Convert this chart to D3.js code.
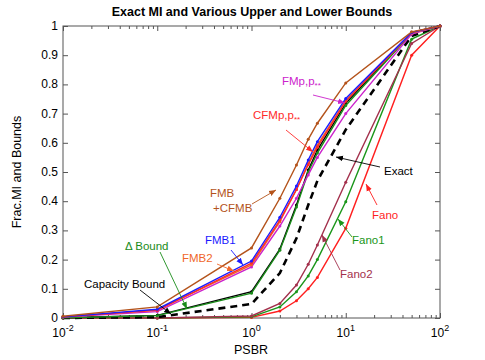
<!DOCTYPE html>
<html><head><meta charset="utf-8">
<script src="https://cdn.jsdelivr.net/npm/d3@7"></script>
<style>body{margin:0;background:#fff}svg{display:block}text{font-family:"Liberation Sans",Arial,sans-serif}</style>
</head><body><svg id="c" width="485" height="360"></svg>
<script>
const psbr = [0.01, 0.1, 1, 2, 3, 4, 5, 10, 50, 100];
const fmbCfmb  = [0.006, 0.038, 0.240, 0.410, 0.524, 0.612, 0.667, 0.805, 0.980, 1];
const fmb1     = [0.004, 0.030, 0.195, 0.345, 0.452, 0.541, 0.604, 0.752, 0.978, 1];
const fmb2     = [0.004, 0.028, 0.182, 0.330, 0.440, 0.530, 0.592, 0.745, 0.976, 1];
const cfmp     = [0.004, 0.026, 0.188, 0.335, 0.440, 0.525, 0.585, 0.742, 0.978, 1];
const fmp      = [0.003, 0.022, 0.175, 0.315, 0.410, 0.490, 0.550, 0.700, 0.972, 1];
const deltaB   = [0.001, 0.008, 0.085, 0.232, 0.380, 0.500, 0.565, 0.728, 0.975, 1];
const capacity = [0.001, 0.009, 0.090, 0.236, 0.387, 0.507, 0.575, 0.735, 0.977, 1];
const exact    = [0.000, 0.003, 0.048, 0.154, 0.273, 0.387, 0.470, 0.645, 0.966, 1];
const fano2    = [0, 0, 0.007, 0.050, 0.113, 0.184, 0.250, 0.465, 0.940, 1];
const fano1    = [0, 0, 0.004, 0.038, 0.090, 0.144, 0.200, 0.398, 0.955, 1];
const fano     = [0, 0, 0.002, 0.024, 0.059, 0.100, 0.139, 0.307, 0.900, 1];
const xTicks = [0.01, 0.1, 1, 10, 100];
const xTickExp = ["-2", "-1", "0", "1", "2"];
const yTicks = [0, 0.1, 0.2, 0.3, 0.4, 0.5, 0.6, 0.7, 0.8, 0.9, 1];

const series = [
  {name:"Fano", v:fano, c:"#ff1f1f"},
  {name:"Fano1", v:fano1, c:"#1a961a"},
  {name:"Fano2", v:fano2, c:"#a3304c"},
  {name:"Exact", v:exact, c:"#000", dash:true},
  {name:"Capacity", v:capacity, c:"#000"},
  {name:"Delta", v:deltaB, c:"#1a8c1a"},
  {name:"FMp", v:fmp, c:"#cc22cc"},
  {name:"FMB2", v:fmb2, c:"#f0662a"},
  {name:"CFMp", v:cfmp, c:"#ff2a2a"},
  {name:"FMB1", v:fmb1, c:"#1a1aff"},
  {name:"FMBCFMB", v:fmbCfmb, c:"#b4531b"}
];

const L=63, R=440, T=26, B=318;
const svg = d3.select("#c");
const x = d3.scaleLog().domain([0.01,100]).range([L,R]);
const y = d3.scaleLinear().domain([0,1]).range([B,T]);

// frame
svg.append("rect").attr("x",L).attr("y",T).attr("width",R-L).attr("height",B-T)
  .attr("fill","none").attr("stroke","#555").attr("stroke-width",1);

// x axis ticks (inside) bottom & top
const minor = [];
for (let e=-2;e<2;e++) for (let k=2;k<10;k++) minor.push(k*Math.pow(10,e));
const xb = d3.axisBottom(x).tickValues(xTicks).tickSize(-5).tickFormat("");
const gxb = svg.append("g").attr("transform",`translate(0,${B})`).call(xb);
const gxt = svg.append("g").attr("transform",`translate(0,${T})`).call(d3.axisTop(x).tickValues(xTicks).tickSize(-5).tickFormat(""));
svg.append("g").attr("transform",`translate(0,${B})`).call(d3.axisBottom(x).tickValues(minor).tickSize(-3).tickFormat(""));
svg.append("g").attr("transform",`translate(0,${T})`).call(d3.axisTop(x).tickValues(minor).tickSize(-3).tickFormat(""));
svg.append("g").attr("transform",`translate(${L},0)`).call(d3.axisLeft(y).tickValues(yTicks).tickSize(-5).tickFormat(""));
svg.append("g").attr("transform",`translate(${R},0)`).call(d3.axisRight(y).tickValues(yTicks).tickSize(-5).tickFormat(""));
svg.selectAll(".domain").remove();
svg.selectAll(".tick line").attr("stroke","#555");

// tick labels
xTicks.forEach((t,i)=>{
  const tx = svg.append("text").attr("x",x(t)).attr("y",B+19).attr("text-anchor","middle")
    .attr("font-size",12).attr("fill","#000");
  tx.append("tspan").text("10");
  tx.append("tspan").attr("dy",-6).attr("font-size",9).text(xTickExp[i]);
});
yTicks.forEach(t=>{
  svg.append("text").attr("x",L-5).attr("y",y(t)+4).attr("text-anchor","end")
    .attr("font-size",12).text(d3.format("")(+t.toFixed(1)));
});

// labels
svg.append("text").attr("x",252).attr("y",16).attr("text-anchor","middle")
  .attr("font-size",12.5).attr("font-weight","bold").text("Exact MI and Various Upper and Lower Bounds");
svg.append("text").attr("x",251).attr("y",354).attr("text-anchor","middle").attr("font-size",12.5).text("PSBR");
svg.append("text").attr("transform","translate(21,172) rotate(-90)").attr("text-anchor","middle")
  .attr("font-size",12.5).text("Frac.MI and Bounds");

// lines
const line = d3.line().x((d,i)=>x(psbr[i])).y(d=>y(d));
series.forEach(s=>{
  svg.append("path").datum(s.v).attr("d",line).attr("fill","none").attr("stroke",s.c)
    .attr("stroke-width",s.dash?2.6:1.4).attr("stroke-dasharray",s.dash?"7,5":null);
  if (!s.dash) {
    svg.append("g").selectAll("circle").data(s.v).join("circle")
      .attr("cx",(d,i)=>x(psbr[i])).attr("cy",d=>y(d)).attr("r",1.5).attr("fill",s.c);
  }
});

// annotations
const defs = svg.append("defs");
function arrow(x1,y1,x2,y2,c){
  const id = "m"+c.replace("#","");
  if (defs.select("#"+id).empty()) {
    defs.append("marker").attr("id",id).attr("viewBox","0 0 10 10").attr("refX",10).attr("refY",5)
      .attr("markerWidth",7).attr("markerHeight",7).attr("orient","auto-start-reverse").attr("markerUnits","userSpaceOnUse")
      .append("path").attr("d","M0,1 L10,5 L0,9 Z").attr("fill",c);
  }
  svg.append("line").attr("x1",x1).attr("y1",y1).attr("x2",x2).attr("y2",y2)
    .attr("stroke",c).attr("stroke-width",0.9).attr("marker-end",`url(#${id})`);
}
function label(tx,ty,str,c,sub){
  const t = svg.append("text").attr("x",tx).attr("y",ty).attr("font-size",11.5).attr("fill",c);
  t.append("tspan").text(str);
  if (sub) t.append("tspan").attr("dy",3).attr("font-size",8).text(sub);
  return t;
}
label(282,85,"FMp,p","#cc22cc","**");
arrow(313,95,345,103,"#cc22cc");
label(253,119,"CFMp,p","#ff2a2a","**");
arrow(286,130,313,152,"#ff2a2a");
label(384,175,"Exact","#000");
arrow(380,167,336,157,"#000");
label(210,197,"FMB","#b4531b");
label(213,212,"+CFMB","#b4531b");
arrow(252,204,276,190,"#b4531b");
label(205,244,"FMB1","#1a1aff");
arrow(231,250,243,265,"#1a1aff");
label(182,262,"FMB2","#f0662a");
arrow(217,264,234,271,"#f0662a");
label(125,250,"\u0394 Bound","#1a8c1a");
arrow(160,252,187,309,"#1a8c1a");
label(84,288,"Capacity Bound","#000");
arrow(140,290,171,314,"#000");
label(372,219,"Fano","#ff1f1f");
arrow(377,205,366,184,"#ff1f1f");
label(352,244,"Fano1","#1a961a");
arrow(352,237,338,219,"#1a961a");
label(340,278,"Fano2","#a3304c");
arrow(340,270,322,235,"#a3304c");
</script></body></html>
